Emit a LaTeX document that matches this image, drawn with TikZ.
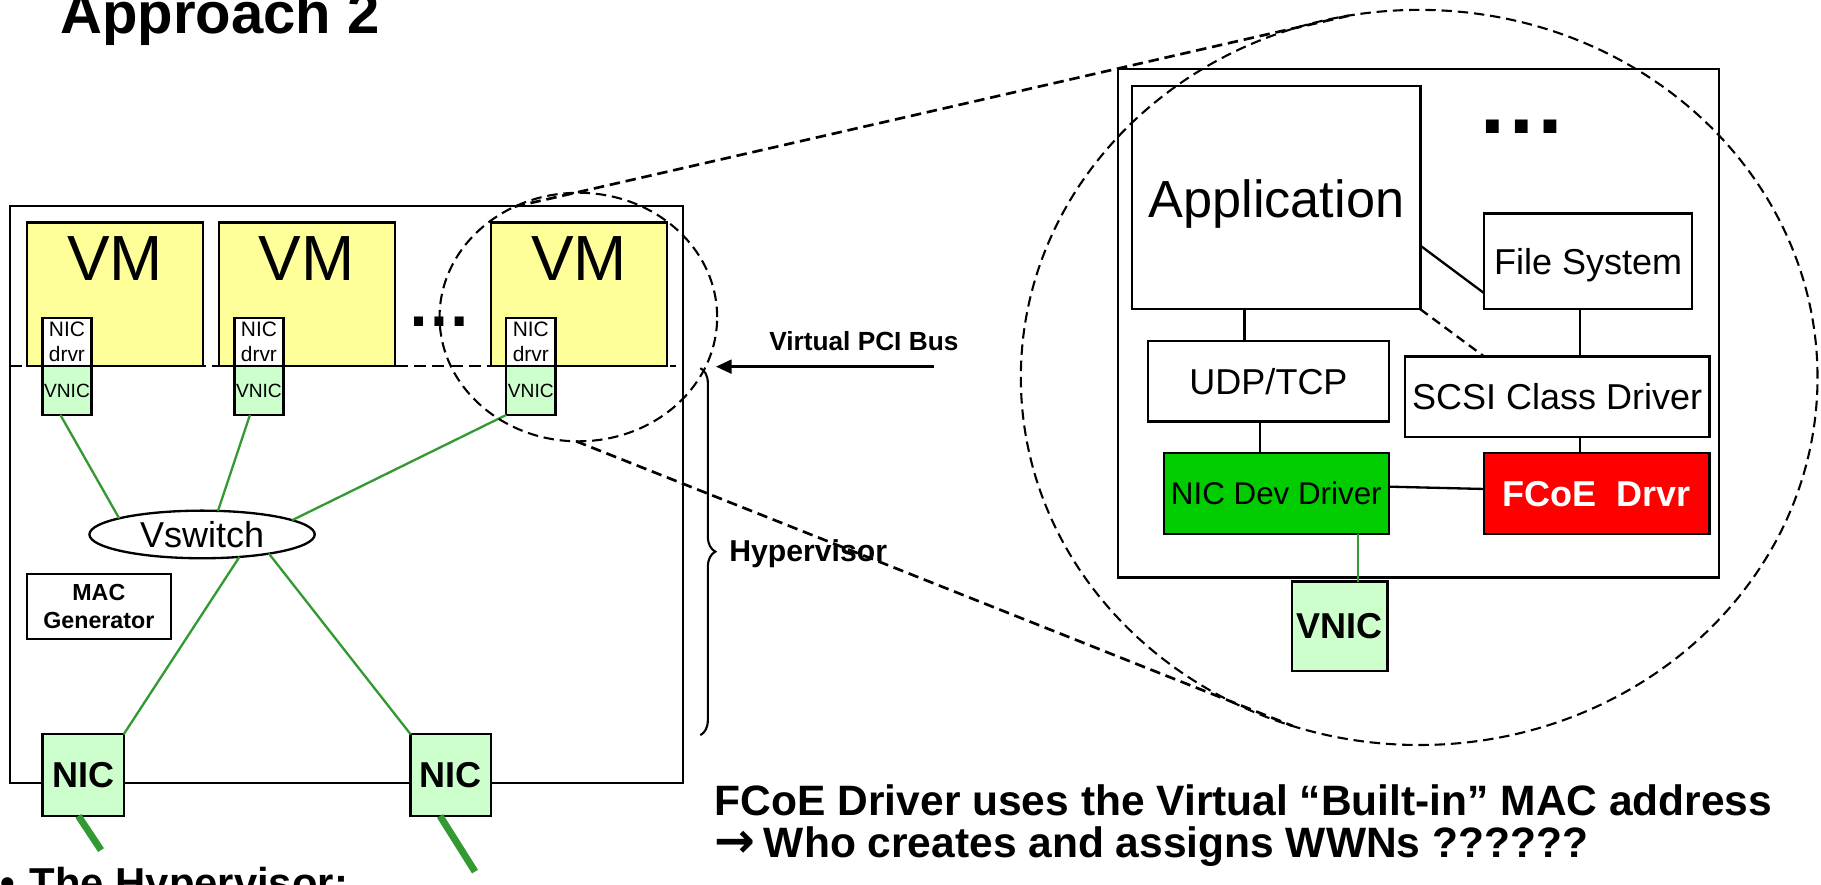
\documentclass[tikz,border=0pt]{standalone}
\usepackage{fontspec}
\setmainfont{Liberation Sans}
\newfontfamily\arrowfont{DejaVu Sans}
\usetikzlibrary{arrows.meta,shapes.geometric,decorations.pathreplacing,calc}

\definecolor{vmYellow}{HTML}{FFFF99}
\definecolor{paleGreen}{HTML}{CCFFCC}
\definecolor{wireGreen}{HTML}{339933}
\definecolor{devGreen}{HTML}{00CC00}
\definecolor{fcoeRed}{HTML}{FF0000}

\newcommand{\setfs}[2]{\fontsize{#1pt}{#2pt}\selectfont}

\begin{document}
\begin{tikzpicture}[x=1pt, y=-1pt,
  box/.style={draw, line width=2pt, inner sep=0pt, outer sep=0pt, rectangle, text depth=0pt, align=center},
  vmbox/.style={box, fill=vmYellow, minimum width=151.8pt, minimum height=123.4pt},
  drvbox/.style={box, fill=white, minimum width=42.3pt, minimum height=41.1pt, font={\setfs{18}{21.5}}},
  vnicsmall/.style={box, fill=paleGreen, minimum width=42.3pt, minimum height=42.2pt, font={\setfs{16.5}{16.5}}},
  nicbox/.style={box, fill=paleGreen, minimum width=70pt, minimum height=70.3pt, font={\bfseries\setfs{31}{31}}},
  layer/.style={box, fill=white, font={\setfs{31}{31}}},
  lbl/.style={inner sep=0pt, outer sep=0pt},
  wire/.style={wireGreen, line width=2pt},
  link/.style={black, line width=2pt},
  zoomring/.style={draw, ellipse, line width=1.8pt, dash pattern=on 9pt off 5pt, inner sep=0pt, outer sep=0pt},
  zoomline/.style={line width=2.3pt, dash pattern=on 9pt off 5pt},
]
\useasboundingbox (0,0) rectangle (1568,762);

% ---------- title ----------
\node[lbl, anchor=base west, font={\bfseries\setfs{50}{50}}] (title) at (52,28.7) {Approach 2};

% ---------- hypervisor host ----------
\node[box, minimum width=579.5pt, minimum height=496.5pt] (hyp) at (298.25,425.75) {};

\coordinate (busL) at (8.5,315.1);
\coordinate (busR) at (582,315.1);
\draw[line width=2.4pt, dash pattern=on 10.8pt off 5pt] (busL) -- (busR);

\foreach \n/\cx/\dx in {1/99/57.65, 2/264.2/222.95, 3/498.7/457.05} {
  \node[vmbox] (vm\n) at (\cx,253.4) {};
  \node[lbl, anchor=base, font={\setfs{55}{55}}] (vmt\n) at (\cx,241.1) {VM};
  \node[drvbox] (drv\n) at (\dx,294.55) {NIC\\drvr};
  \node[vnicsmall] (vnic\n) at (\dx,336.2) {VNIC};
}
\node[lbl, anchor=base, font={\bfseries\setfs{55}{55}}] (vmdots) at (378.5,281.3) {…};

\node[draw, ellipse, line width=2pt, fill=white, inner sep=0pt, outer sep=0pt,
      minimum width=194pt, minimum height=41pt, text depth=0pt, font={\setfs{31}{31}}] (vsw) at (174,460.2) {Vswitch};

\node[box, minimum width=124.2pt, minimum height=55.7pt, font={\bfseries\setfs{20}{24}}] (macgen) at (85.1,522.35) {MAC\\Generator};

\node[nicbox] (nic1) at (71.5,667.45) {NIC};
\node[nicbox, minimum width=69.2pt] (nic2) at (388.2,667.45) {NIC};

% virtual links through the vswitch
\draw[wire] ($(vnic1.south)+(-5.65,0)$) -- (vsw.169);
\draw[wire] ($(vnic2.south)+(-7.75,0)$) -- (vsw.56);
\draw[wire] (vnic3.south west) -- (vsw.9);
\draw[wire] (vsw.-31.5) -- (nic1.north east);
\draw[wire] (vsw.-16) -- (nic2.north west);

% physical uplinks
\coordinate (up1) at (87,732);
\coordinate (up2) at (409,750.5);
\draw[wireGreen, line width=6pt] ($(nic1.south)+(-4,0)$) -- (up1);
\draw[wireGreen, line width=6pt] ($(nic2.south)+(-9.3,0)$) -- (up2);

% bus arrow and hypervisor brace
\coordinate (pciS) at (804.2,315.7);
\coordinate (pciT) at (616.5,315.7);
\draw[line width=2pt, -{Triangle[length=13.5pt,width=12pt]}] (pciS) -- (pciT);
\node[lbl, anchor=base west, font={\bfseries\setfs{22.6}{22.6}}] (pcilbl) at (662.4,302.2) {Virtual PCI Bus};

\coordinate (brT) at (603,317);
\coordinate (brB) at (603,633);
\draw[line width=1.8pt, decorate, decoration={brace, amplitude=13pt}] (brT) -- (brB);
\node[lbl, anchor=base west, font={\bfseries\setfs{26}{26}}] (hyplbl) at (628,483.6) {Hypervisor};

% ---------- guest stack ----------
\node[box, minimum width=517.4pt, minimum height=438pt] (os) at (1221.3,278.4) {};
\node[box, fill=white, minimum width=248pt, minimum height=192.5pt] (app) at (1099,170.05) {};
\node[lbl, anchor=base, font={\setfs{45}{45}}] (applbl) at (1099,187) {Application};
\node[lbl, anchor=base, font={\bfseries\setfs{78}{78}}] (osdots) at (1310,115) {…};

\node[layer, minimum width=179pt, minimum height=82.6pt] (fsys) at (1367.5,225) {File System};
\node[layer, minimum width=207.5pt, minimum height=69.4pt] (udp) at (1092.25,328.3) {UDP/TCP};
\node[layer, minimum width=262.5pt, minimum height=69pt] (scsi) at (1340.75,341.5) {SCSI Class Driver};
\node[box, fill=devGreen, minimum width=194pt, minimum height=69.5pt, font={\setfs{27}{27}}] (nicdev) at (1099,425.05) {NIC Dev Driver};
\node[box, fill=fcoeRed, text=white, minimum width=194pt, minimum height=69.5pt, font={\bfseries\setfs{31}{31}}] (fcoe) at (1375,425.05) {FCoE\ \ Drvr};
\node[box, fill=paleGreen, minimum width=82.1pt, minimum height=77pt, font={\bfseries\setfs{31}{31}}] (vnicbig) at (1153.55,539.3) {VNIC};

\draw[link] ($(app.south)+(-27.4,0)$) -- ($(udp.north)+(-20.65,0)$);
\draw[link] ($(app.east)+(0,41.45)$) -- ($(fsys.west)+(0,27.5)$);
\draw[link, dash pattern=on 8pt off 5pt] (app.south east) -- ($(scsi.north west)+(68.5,0)$);
\draw[link] ($(fsys.south)+(-7,0)$) -- ($(scsi.north)+(19.75,0)$);
\draw[link] ($(udp.south)+(-7.25,0)$) -- ($(nicdev.north)+(-14,0)$);
\draw[link] ($(scsi.south)+(19.75,0)$) -- ($(fcoe.north)+(-14.5,0)$);
\draw[link] ($(nicdev.east)+(0,-6)$) -- ($(fcoe.west)+(0,-4)$);
\draw[wireGreen, line width=1.6pt] ($(nicdev.south)+(70.3,0)$) -- ($(vnicbig.north)+(15.75,0)$);

% ---------- magnification rings ----------
\node[zoomring, minimum width=239pt, minimum height=214pt] (ringS) at (498,273) {};
\node[zoomring, minimum width=686pt, minimum height=633pt] (ringB) at (1222,325) {};
\draw[zoomline] (ringS.120.5) -- (ringB.101.3);
\draw[zoomline] (ringS.269) -- (ringB.250);

% ---------- notes ----------
\node[lbl, anchor=base west, font={\bfseries\setfs{36.6}{36.6}}] (note1) at (615.6,702) {FCoE Driver uses the Virtual “Built-in” MAC address};
\node[lbl, anchor=base west, font={\bfseries\setfs{36.6}{36.6}}] (note2) at (615.6,738) {{\arrowfont\bfseries\setfs{42}{42}→}\hspace{7pt}Who creates and assigns WWNs ??????};
\node[lbl, anchor=base west, font={\bfseries\setfs{36}{36}}] (bullet) at (0,773) {•\hspace{13pt}The Hypervisor:};
\end{tikzpicture}
\end{document}
